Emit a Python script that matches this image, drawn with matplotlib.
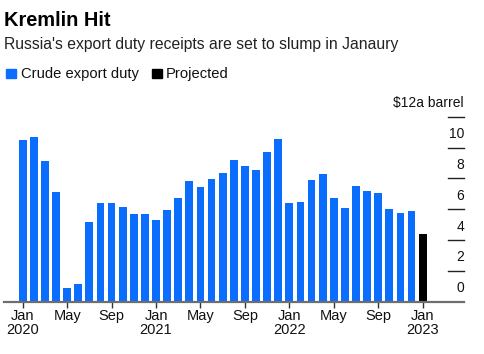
import matplotlib
matplotlib.use("Agg")
import matplotlib.pyplot as plt
import matplotlib.transforms as mtransforms
import numpy as np

# ---- data ----
months = ["Jan 2020", "Feb 2020", "Mar 2020", "Apr 2020", "May 2020", "Jun 2020",
          "Jul 2020", "Aug 2020", "Sep 2020", "Oct 2020", "Nov 2020", "Dec 2020",
          "Jan 2021", "Feb 2021", "Mar 2021", "Apr 2021", "May 2021", "Jun 2021",
          "Jul 2021", "Aug 2021", "Sep 2021", "Oct 2021", "Nov 2021", "Dec 2021",
          "Jan 2022", "Feb 2022", "Mar 2022", "Apr 2022", "May 2022", "Jun 2022",
          "Jul 2022", "Aug 2022", "Sep 2022", "Oct 2022", "Nov 2022", "Dec 2022",
          "Jan 2023"]
crude_duty = [10.49, 10.69, 9.14, 7.09, 0.88, 1.14, 5.14, 6.37, 6.43, 6.17, 5.72, 5.72,
              5.27, 5.98, 6.75, 7.85, 7.46, 7.98, 8.37, 9.20, 8.82, 8.56, 9.72, 10.56,
              6.37, 6.49, 7.91, 8.30, 6.75, 6.11, 7.53, 7.20, 7.08, 6.04, 5.78, 5.91]
projected = [4.37]  # Jan 2023
x_tick_idx = [0, 4, 8, 12, 16, 20, 24, 28, 32, 36]
x_tick_labels = ["Jan\n2020", "May", "Sep", "Jan\n2021", "May", "Sep",
                 "Jan\n2022", "May", "Sep", "Jan\n2023"]
y_ticks = [0, 2, 4, 6, 8, 10, 12]
y_tick_labels = ["0", "2", "4", "6", "8", "10", "$12a barrel"]

BLUE = "#0a6dfd"
FONT = "Liberation Sans"
plt.rcParams["font.family"] = [FONT, "DejaVu Sans"]

W, H = 484, 354
fig = plt.figure(figsize=(W / 100, H / 100), dpi=100)

def fx(px):
    return px / W

def fy(py):
    return 1 - py / H

left_px, right_px = 4, 464
top_px, bot_px = 116.7, 301.7
ax = fig.add_axes([fx(left_px), fy(bot_px), fx(right_px - left_px), (bot_px - top_px) / H])

n_hist = len(crude_duty)
xs_hist = np.arange(n_hist)
xs_proj = np.arange(n_hist, n_hist + len(projected))
ax.bar(xs_hist, crude_duty, width=0.7, color=BLUE, zorder=2)
ax.bar(xs_proj, projected, width=0.7, color="black", zorder=2)

# x limits: Jan 2020 center at 22.7px, 11.11 px per month
px_per_month = 11.11
x0 = (left_px - 22.7) / px_per_month
x1 = (right_px - 22.7) / px_per_month
ax.set_xlim(x0, x1)
ax.set_ylim(0, 12)

for s in ["top", "right", "left"]:
    ax.spines[s].set_visible(False)
ax.spines["bottom"].set_color("#6e6e6e")
ax.spines["bottom"].set_linewidth(1.6)
ax.spines["bottom"].set_zorder(3)

ax.set_yticks([])
ax.set_xticks(x_tick_idx)
ax.set_xticklabels(x_tick_labels, fontsize=10.5, color="#111111", linespacing=0.95)
ax.tick_params(axis="x", length=4, width=1.0, color="#333333", pad=1.5)

# right-side short tick lines with labels above them
trans = mtransforms.blended_transform_factory(ax.transAxes, ax.transData)
lx0 = (448 - left_px) / (right_px - left_px)
for v, lab in zip(y_ticks, y_tick_labels):
    if v > 0:
        ax.plot([lx0, 1.0], [v, v], transform=trans, color="#222222", lw=1.0,
                clip_on=False, zorder=3)
    ax.text(1.0, v + 13.5 / 15.5, lab, transform=trans, ha="right", va="center",
            fontsize=10, color="#111111")

# title, subtitle, legend
fig.text(fx(4), fy(26), "Kremlin Hit", fontsize=14.4, fontweight="bold",
         ha="left", va="baseline", color="black")
fig.text(fx(4), fy(48.7), "Russia's export duty receipts are set to slump in Janaury",
         fontsize=11.35, ha="left", va="baseline", color="#222222")

sq = 9.5
fig.patches.append(plt.Rectangle((fx(6), fy(78)), sq / W, sq / H, color=BLUE,
                                 transform=fig.transFigure, figure=fig))
fig.text(fx(21), fy(77.7), "Crude export duty", fontsize=10.6, ha="left",
         va="baseline", color="#111111")
fig.patches.append(plt.Rectangle((fx(152), fy(78)), sq / W, sq / H, color="black",
                                 transform=fig.transFigure, figure=fig))
fig.text(fx(166), fy(77.7), "Projected", fontsize=10.6, ha="left",
         va="baseline", color="#111111")

fig.savefig("out.png", dpi=100, facecolor="white")
